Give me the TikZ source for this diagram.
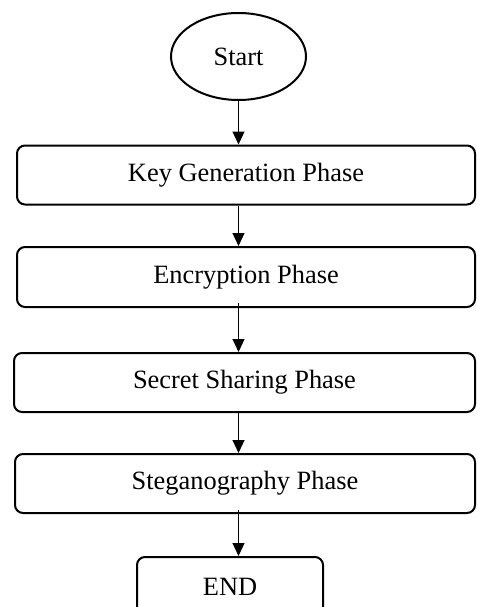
\documentclass[tikz,border=0pt]{standalone}
\usepackage{fontspec}
\setmainfont{Liberation Serif}
\usetikzlibrary{arrows.meta,shapes.geometric}

\tikzset{
  phase/.style={draw, line width=2pt, rounded corners=8pt, minimum height=59pt,
    inner sep=0pt, align=center, font=\fontsize{26.4}{30}\selectfont},
  terminal/.style={draw, ellipse, line width=2pt, minimum width=135pt,
    minimum height=87pt, inner sep=0pt, font=\fontsize{26.4}{30}\selectfont},
  flow/.style={line width=1.1pt, -{Triangle[length=13pt,width=12pt]}}
}

\begin{document}
\begin{tikzpicture}[x=1pt,y=-1pt]
  \useasboundingbox (0,0) rectangle (476,607);
  \clip (0,0) rectangle (476,607);

  % process chain
  \node[terminal] (start) at (238.5,56.5) {Start};
  \node[phase, minimum width=458pt] (keygen) at (246,175) {Key Generation Phase};
  \node[phase, minimum width=458pt, minimum height=60pt] (enc) at (246,277) {Encryption Phase};
  \node[phase, minimum width=461pt] (share) at (244.5,382.5) {Secret Sharing Phase};
  \node[phase, minimum width=460pt] (stego) at (245,483.5) {Steganography Phase};
  \node[phase, minimum width=186pt, minimum height=60pt] (finish) at (230,587) {END};

  % arrows run down one common vertical line
  \coordinate (ax) at (start.south);
  \draw[flow] (start.south) -- (keygen.north -| ax);
  \draw[flow] (keygen.south -| ax) -- (enc.north -| ax);
  \draw[flow] ([yshift=5pt]enc.south -| ax) -- (share.north -| ax);
  \draw[flow] (share.south -| ax) -- (stego.north -| ax);
  \draw[flow] ([yshift=4pt]stego.south -| ax) -- (finish.north -| ax);
\end{tikzpicture}
\end{document}
